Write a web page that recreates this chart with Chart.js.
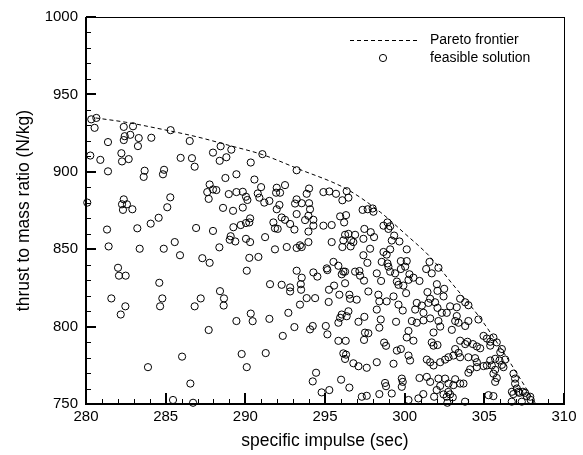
<!DOCTYPE html>
<html>
<head>
<meta charset="utf-8">
<script src="https://cdn.jsdelivr.net/npm/chart.js@4.4.1/dist/chart.umd.min.js"></script>
<style>
  html, body { margin: 0; padding: 0; background: #fff; }
  #wrap { width: 583px; height: 455px; }
</style>
</head>
<body>
<div id="wrap"><canvas id="chart" width="583" height="455"></canvas></div>
<script>
// feasible solutions (specific impulse, thrust to mass ratio)
const solutionX = [
  280.33, 280.65, 280.54, 282.37, 282.95, 282.43, 282.37, 282.78, 283.31, 283.26, 284.10, 285.31, 281.38, 286.51,
  280.27, 280.90, 282.22, 282.26, 282.68, 285.94, 286.65, 286.82, 287.97, 288.45, 289.12, 288.39, 288.81,
  281.38, 283.68, 283.62, 284.90, 284.83, 288.75, 289.44, 287.76, 287.61, 287.97, 288.18, 287.70, 288.96, 289.44,
  280.08, 282.37, 282.26, 282.57, 282.32, 282.91, 285.29, 285.10, 288.60, 289.23,
  281.32, 283.22, 284.06, 284.56, 286.91, 287.97, 289.25, 289.08, 289.02, 289.37, 281.42, 283.37, 284.88, 285.57,
  285.90, 287.30, 287.76, 288.37, 282.01, 282.07, 282.49, 284.60, 281.59, 282.47, 284.79, 284.65, 286.82, 287.20,
  288.41, 288.66, 288.64,
  282.18, 289.44, 287.70, 286.03, 283.89, 286.55, 285.46, 286.72,
  294.79, 295.27, 297.31, 297.62, 298.41, 299.19, 300.24, 300.86, 301.17, 301.85, 302.01, 302.64, 303.02, 302.68,
  302.74, 303.79, 305.26, 305.57, 306.72, 306.82, 307.20, 307.56, 307.66, 307.91,
  291.07, 290.34, 290.57, 290.99, 292.49, 294.00, 289.84, 290.04, 290.13, 290.78, 290.88, 291.19, 291.51, 291.93,
  292.18, 291.97, 293.22, 293.85, 293.22, 293.12, 293.54, 294.00, 294.06, 294.90, 295.27, 295.69, 296.36, 296.47,
  296.09, 289.84, 292.14, 291.97, 297.36, 297.68, 297.99, 298.04,
  289.71, 290.04, 290.30, 290.25, 290.04, 290.30, 291.24, 291.76, 291.86, 292.03, 292.28, 292.49, 292.81, 293.08,
  293.22, 293.75, 293.96, 294.27, 294.27, 293.96, 293.96, 293.43, 293.22, 293.54, 292.60, 291.86, 294.90, 295.42,
  295.95, 296.32, 296.20, 296.47, 296.89, 296.26, 296.15, 296.64, 296.78, 296.09, 296.61, 297.41, 297.47, 297.87,
  298.08, 297.83, 298.67, 298.92, 298.98, 298.67, 298.87, 297.41, 297.66, 298.56, 298.92, 295.42, 290.25, 290.82,
  290.09, 293.22, 294.27, 294.52, 295.11, 295.15, 295.53, 295.84, 296.15, 296.05, 296.26, 296.89, 297.16, 297.20,
  297.45, 293.54, 293.48, 293.50, 292.81, 292.81, 292.28, 291.55, 295.25, 295.57, 296.26, 295.90, 296.53, 296.57,
  296.99, 297.72, 298.25, 298.52, 298.35, 298.41, 298.87, 293.85, 294.38, 293.43, 295.23,
  298.25, 290.34, 290.46, 291.51, 292.70, 292.35, 293.08, 294.06, 294.23, 295.05, 295.15, 295.84, 295.95, 296.05,
  296.36, 296.47, 297.10, 297.47, 297.51, 297.72, 297.45, 298.41, 298.50, 295.84, 296.30, 298.71, 298.83, 296.15,
  296.26, 296.32, 296.78, 297.10, 297.62, 298.25, 289.77, 291.28, 290.09, 294.44, 294.23, 296.01, 296.53, 298.77,
  298.83,
  299.09, 299.34, 299.19, 299.67, 299.09, 300.13,
  299.76, 300.13, 300.03, 299.76, 298.98, 299.09, 299.40, 300.30, 300.55, 300.93, 300.24, 299.51, 299.61, 299.92,
  300.09, 299.30, 299.61, 299.88, 300.76, 300.66, 301.08, 301.18, 301.49, 301.91, 301.60, 301.43, 301.35, 301.70,
  301.56, 302.12, 302.02, 302.06, 302.48, 302.44, 302.06, 302.33, 302.85, 303.27, 303.48, 303.80, 304.00, 302.64,
  303.27, 303.17, 302.12, 301.60, 301.18, 300.45, 300.76, 299.46, 304.00, 304.63,
  303.38, 303.80, 302.96, 302.23, 301.81, 300.24, 300.13, 300.55, 299.51, 299.76, 300.24, 300.34, 299.30, 301.70,
  301.81, 302.06, 303.48, 303.80, 303.94, 304.28, 304.53, 304.95, 305.16, 305.37, 305.57, 305.37, 305.78, 304.74,
  303.17, 303.38, 303.06, 302.75, 302.54, 302.23, 301.81, 301.60, 301.39, 303.48, 304.00, 304.42, 304.53, 304.11,
  304.53, 304.95, 305.16, 305.47, 305.37, 305.68, 305.95, 306.31, 306.10, 306.20, 306.10, 306.00, 305.68, 305.57,
  305.78, 305.68, 306.83, 306.93, 306.93, 307.04, 307.14, 306.73, 307.42, 307.88, 307.35, 300.93, 301.39, 301.60,
  302.12, 302.54, 302.75, 303.17, 303.06, 303.48, 303.69, 304.00, 302.23, 302.44, 302.85, 299.82, 299.88, 299.82
];
const solutionY = [
  933.9, 934.8, 928.4, 929.0, 929.4, 923.0, 920.5, 923.9, 921.8, 916.6, 922.0, 926.9, 919.2, 919.9,
  910.5, 907.7, 912.0, 906.7, 908.2, 909.0, 908.8, 903.3, 912.4, 916.5, 914.3, 907.1, 909.4,
  900.3, 900.7, 896.7, 901.3, 898.4, 896.0, 898.4, 891.8, 886.9, 888.6, 888.2, 882.5, 885.6, 886.9,
  880.1, 882.2, 879.0, 879.0, 875.4, 875.8, 883.5, 877.1, 876.7, 874.8,
  862.7, 863.5, 866.5, 870.3, 863.7, 861.8, 864.2, 858.4, 856.1, 855.0, 851.8, 850.3, 850.3, 854.6,
  846.1, 844.2, 841.2, 851.2, 838.0, 832.9, 832.9, 828.3, 818.2, 813.1, 818.2, 813.1, 813.1, 818.2,
  822.9, 818.2, 813.6,
  807.8, 803.6, 797.8, 780.6, 773.8, 763.2, 752.6, 750.8,
  757.5, 759.0, 754.7, 755.3, 756.4, 756.8, 752.6, 753.6, 756.4, 754.7, 759.0, 754.7, 754.3, 750.8,
  757.8, 751.5, 755.7, 755.1, 751.5, 756.4, 757.2, 757.2, 755.1, 752.6,
  911.4, 906.0, 895.0, 890.1, 891.4, 889.2, 887.1, 883.9, 881.8, 886.0, 883.3, 880.1, 881.2, 886.5,
  886.5, 889.7, 901.0, 885.8, 882.2, 879.5, 879.7, 879.7, 875.8, 886.9, 887.3, 885.8, 887.5, 883.3,
  881.6, 876.9, 878.6, 875.8, 875.4, 875.8, 876.3, 874.2,
  865.6, 866.9, 869.9, 867.3, 856.7, 854.6, 857.8, 867.3, 863.5, 863.1, 870.5, 869.0, 866.3, 862.7,
  872.7, 868.8, 871.6, 869.0, 865.2, 861.4, 854.6, 852.5, 850.8, 851.4, 851.4, 849.9, 865.2, 865.6,
  871.2, 872.0, 867.3, 859.9, 859.3, 859.3, 855.7, 855.7, 854.6, 851.4, 851.8, 856.7, 863.1, 861.0,
  857.8, 850.3, 865.2, 867.3, 863.1, 848.2, 846.5, 846.1, 841.2, 841.8, 840.8, 854.6, 844.4, 845.0,
  836.1, 836.1, 835.0, 832.3, 837.6, 836.5, 841.8, 839.3, 835.5, 833.8, 835.5, 835.5, 835.9, 832.9,
  829.7, 831.6, 827.4, 823.8, 825.3, 822.7, 827.0, 827.4, 823.8, 826.5, 828.0, 820.6, 820.6, 818.0,
  817.4, 822.7, 834.4, 829.5, 820.6, 816.3, 816.3, 818.4, 818.4, 814.2, 815.9,
  811.0, 808.4, 803.5, 805.0, 808.9, 794.0, 799.7, 798.2, 800.4, 800.4, 795.0, 802.5, 805.7, 807.8,
  806.7, 809.9, 803.1, 806.3, 796.1, 795.7, 791.4, 799.3, 804.6, 790.8, 790.8, 789.7, 787.6, 782.7,
  779.1, 781.9, 776.3, 774.4, 773.4, 777.0, 782.3, 782.9, 773.8, 770.2, 764.6, 765.7, 760.6, 763.6,
  761.5,
  864.8, 858.8, 855.6, 855.0, 849.9, 849.9,
  842.3, 842.3, 838.7, 837.2, 838.7, 835.5, 834.4, 833.8, 831.6, 829.5, 830.2, 829.1, 827.0, 826.5,
  821.6, 819.5, 814.2, 810.4, 815.3, 811.0, 813.6, 808.9, 815.3, 815.7, 818.0, 822.3, 837.2, 834.4,
  841.8, 838.0, 827.4, 823.1, 824.4, 819.5, 812.1, 808.9, 813.1, 812.5, 818.0, 815.7, 813.8, 808.9,
  806.8, 803.6, 803.6, 805.3, 804.0, 803.6, 802.5, 803.1, 803.6, 804.6,
  802.5, 800.4, 797.9, 800.0, 796.2, 797.2, 793.0, 790.9, 784.5, 785.5, 781.3, 778.1, 776.0, 789.8,
  787.7, 788.1, 790.9, 788.7, 790.2, 788.7, 787.2, 794.0, 792.3, 790.2, 793.0, 787.7, 789.8, 786.0,
  785.5, 783.0, 781.3, 780.2, 778.7, 777.0, 774.9, 777.0, 778.7, 780.2, 780.2, 779.6, 777.0, 772.4,
  773.8, 774.5, 774.9, 774.9, 778.1, 779.2, 778.1, 778.7, 775.3, 773.8, 785.5, 783.4, 772.1, 769.6,
  766.8, 764.3, 769.6, 766.4, 763.2, 760.0, 757.9, 757.9, 757.9, 754.7, 751.5, 766.8, 767.5, 764.3,
  766.4, 766.4, 763.2, 766.0, 762.2, 763.2, 763.2, 770.2, 761.7, 756.2, 756.2, 766.4, 764.3, 761.1
];

// Pareto frontier (dashed)
const frontierX = [280.6, 282.5, 284.8, 287.0, 289.0, 291.1, 293.2, 296.4, 298.5, 300.0, 301.6, 303.0, 304.7, 306.0, 307.0, 308.2];
const frontierY = [934.8, 932.0, 927.4, 922.5, 917.0, 911.0, 902.4, 888.6, 873.7, 860.2, 845.0, 827.5, 806.0, 786.6, 770.5, 750.5];

// tick labels
const xTickValues = [280, 285, 290, 295, 300, 305, 310];
const yTickValues = [750, 800, 850, 900, 950, 1000];

const FONT = "'Liberation Sans', Arial, sans-serif";

const solutionPoints = solutionX.map((x, i) => ({ x: x, y: solutionY[i] }));
const frontierPoints = frontierX.map((x, i) => ({ x: x, y: frontierY[i] }));

// inward ticks, box and legend
const framePlugin = {
    id: 'framePlugin',
    afterDraw(chart) {
        const ctx = chart.ctx;
        const xs = chart.scales.x;
        const ys = chart.scales.y;
        const a = chart.chartArea;
        const L = Math.round(a.left), R = Math.round(a.right);
        const T = Math.round(a.top), B = Math.round(a.bottom);
        ctx.save();
        ctx.fillStyle = '#000';

        // thin top and right border
        ctx.fillRect(L, T, R - L + 1, 1);
        ctx.fillRect(R, T, 1, B - T);

        // minor ticks
        for (let v = 281; v < 310; v++) {
            if (v % 5 === 0) continue;
            const px = Math.round(xs.getPixelForValue(v));
            ctx.fillRect(px, B - 5, 1, 5);
        }
        for (let v = 760; v < 1000; v += 10) {
            if (v % 50 === 0) continue;
            const py = Math.round(ys.getPixelForValue(v));
            ctx.fillRect(L, py, 5, 1);
        }

        // major ticks
        xTickValues.forEach(v => {
            const px = Math.round(xs.getPixelForValue(v));
            ctx.fillRect(px - 1, B - 11, 2, 11);
        });
        yTickValues.forEach(v => {
            const py = Math.round(ys.getPixelForValue(v));
            ctx.fillRect(L, py - 1, 10, 2);
        });

        // thick left and bottom axis
        ctx.fillRect(L - 1, T, 2, B - T + 1);
        ctx.fillRect(L - 1, B - 1, R - L + 2, 2);

        // legend
        ctx.strokeStyle = '#000';
        ctx.lineWidth = 1;
        ctx.setLineDash([4, 3]);
        ctx.beginPath();
        ctx.moveTo(350, 40.5);
        ctx.lineTo(419, 40.5);
        ctx.stroke();
        ctx.setLineDash([]);
        ctx.beginPath();
        ctx.arc(383, 58, 3.6, 0, Math.PI * 2);
        ctx.stroke();
        ctx.font = '14px ' + FONT;
        ctx.textBaseline = 'middle';
        ctx.fillText('Pareto frontier', 430, 40);
        ctx.fillText('feasible solution', 430, 58);
        ctx.restore();
    }
};

const ctx = document.getElementById('chart').getContext('2d');
new Chart(ctx, {
    type: 'scatter',
    data: {
        datasets: [{
            label: 'feasible solution',
            data: solutionPoints,
            pointRadius: 3.6,
            pointHoverRadius: 3.6,
            pointBorderWidth: 1,
            pointBorderColor: '#000',
            pointBackgroundColor: 'rgba(0,0,0,0)',
            showLine: false,
            clip: false
        }, {
            label: 'Pareto frontier',
            type: 'line',
            data: frontierPoints,
            borderColor: '#000',
            borderWidth: 1,
            borderDash: [4, 3],
            pointRadius: 0,
            fill: false,
            cubicInterpolationMode: 'monotone'
        }]
    },
    options: {
        responsive: false,
        animation: false,
        layout: { padding: { left: 0, right: 19, top: 12, bottom: 0 } },
        plugins: {
            legend: { display: false },
            tooltip: { enabled: false }
        },
        scales: {
            x: {
                type: 'linear',
                min: 280,
                max: 310,
                border: { display: false },
                grid: { display: false, drawTicks: false },
                afterBuildTicks: s => { s.ticks = xTickValues.map(v => ({ value: v })); },
                afterFit: s => { s.height = 51; },
                ticks: {
                    padding: 4,
                    maxRotation: 0,
                    color: '#000',
                    font: { family: FONT, size: 15 },
                    callback: v => String(v)
                },
                title: {
                    display: true,
                    text: 'specific impulse (sec)',
                    color: '#000',
                    font: { family: FONT, size: 17.5 },
                    padding: { top: 0, bottom: 3 }
                }
            },
            y: {
                type: 'linear',
                min: 750,
                max: 1000,
                border: { display: false },
                grid: { display: false, drawTicks: false },
                afterBuildTicks: s => { s.ticks = yTickValues.map(v => ({ value: v })); },
                afterFit: s => { s.width = 86; },
                ticks: {
                    padding: 8,
                    color: '#000',
                    font: { family: FONT, size: 15 },
                    callback: v => String(v)
                },
                title: {
                    display: true,
                    text: 'thrust to mass ratio (N/kg)',
                    color: '#000',
                    font: { family: FONT, size: 17.5 },
                    padding: { top: 14, bottom: 0 }
                }
            }
        }
    },
    plugins: [framePlugin]
});
</script>
</body>
</html>
